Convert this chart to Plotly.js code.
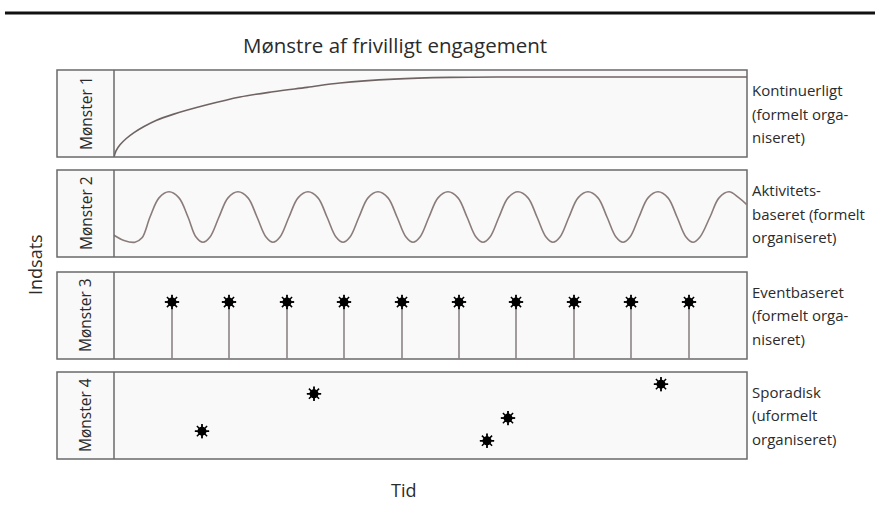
<!DOCTYPE html>
<html>
<head>
<meta charset="utf-8">
<script src="https://cdn.plot.ly/plotly-3.0.1.min.js"></script>
<style>html,body{margin:0;padding:0;background:#fff}#chart{width:880px;height:511px}</style>
</head>
<body>
<div id="chart"></div>
<script>
// ---- data (time offset units, engagement level 0..1) ----
const chartTitle = "Mønstre af frivilligt engagement";
const yTitle = "Indsats";
const xTitle = "Tid";
const patternNames = ["Mønster 1", "Mønster 2", "Mønster 3", "Mønster 4"];
const patternDescriptions = [
  ["Kontinuerligt", "(formelt orga-", "niseret)"],
  ["Aktivitets-", "baseret (formelt", "organiseret)"],
  ["Eventbaseret", "(formelt orga-", "niseret)"],
  ["Sporadisk", "(uformelt", "organiseret)"]
];

// Pattern 1: continuous curve
const contTime  = [0, 2, 6, 12, 20, 30, 42, 59, 93, 126, 159, 193, 226, 280, 336, 400, 633];
const contLevel = [0, 0.07, 0.14, 0.21, 0.28, 0.35, 0.42, 0.49, 0.60, 0.69, 0.75, 0.80, 0.85, 0.895, 0.915, 0.92, 0.92];

// Pattern 2: activity-based wave
const waveTime  = [0, 10, 21, 28, 36, 45, 55, 65, 74, 82, 89, 96,
                   105, 114, 124, 134, 143, 152, 159, 166,
                   175, 184, 194, 204, 213, 222, 229, 236,
                   245, 254, 264, 274, 283, 292, 299, 306,
                   315, 324, 334, 344, 353, 362, 369, 376,
                   385, 394, 404, 414, 423, 432, 439, 446,
                   455, 464, 474, 484, 493, 502, 509, 516,
                   525, 534, 544, 554, 563, 572, 579, 586,
                   596, 605, 615, 625, 633];
const waveLevel = [0.25, 0.19, 0.17, 0.22, 0.46, 0.68, 0.75, 0.68, 0.46, 0.23, 0.17, 0.23,
                   0.46, 0.68, 0.75, 0.68, 0.46, 0.23, 0.17, 0.23,
                   0.46, 0.68, 0.75, 0.68, 0.46, 0.23, 0.17, 0.23,
                   0.46, 0.68, 0.75, 0.68, 0.46, 0.23, 0.17, 0.23,
                   0.46, 0.68, 0.75, 0.68, 0.46, 0.23, 0.17, 0.23,
                   0.46, 0.68, 0.75, 0.68, 0.46, 0.23, 0.17, 0.23,
                   0.46, 0.68, 0.75, 0.68, 0.46, 0.23, 0.17, 0.23,
                   0.46, 0.68, 0.75, 0.68, 0.46, 0.23, 0.17, 0.23,
                   0.46, 0.68, 0.75, 0.68, 0.60];

// Pattern 3: events
const eventTime  = [58, 115, 173, 230, 288, 345, 402, 460, 517, 575];
const eventLevel = [0.655, 0.655, 0.655, 0.655, 0.655, 0.655, 0.655, 0.655, 0.655, 0.655];

// Pattern 4: sporadic
const sporTime  = [88, 200, 373, 394, 547];
const sporLevel = [0.32, 0.75, 0.21, 0.47, 0.86];

// ---- build ----
const curveColor = "#6f6463";
const borderColor = "#6a6a6a";
const font = "Open Sans, Noto Sans, sans-serif";
const textColor = "#2b2b2b";

const domains = [[0.7763, 1.0], [0.5193, 0.7429], [0.2571, 0.4807], [0.0, 0.2237]];
const labelFrac = (114 - 57) / 690;

function starMarkers(x, y, yaxis) {
  return [
    {x: x, y: y, yaxis: yaxis, xaxis: "x", type: "scatter", mode: "markers", hoverinfo: "skip",
     marker: {symbol: "asterisk-open", size: 12, color: "#000", line: {color: "#000", width: 1.5}}},
    {x: x, y: y, yaxis: yaxis, xaxis: "x", type: "scatter", mode: "markers", hoverinfo: "skip",
     marker: {symbol: "cross-thin-open", size: 10, color: "#000", line: {color: "#000", width: 1.3}}},
    {x: x, y: y, yaxis: yaxis, xaxis: "x", type: "scatter", mode: "markers", hoverinfo: "skip",
     marker: {symbol: "circle", size: 9, color: "#000", line: {width: 0}}}
  ];
}

const stemX = [], stemY = [];
eventTime.forEach((t, i) => { stemX.push(t, t, null); stemY.push(0, eventLevel[i], null); });

const traces = [
  {x: contTime, y: contLevel, xaxis: "x", yaxis: "y", type: "scatter", mode: "lines",
   line: {color: curveColor, width: 1.6, shape: "spline", smoothing: 1.0}, hoverinfo: "skip"},
  {x: waveTime, y: waveLevel, xaxis: "x", yaxis: "y2", type: "scatter", mode: "lines",
   line: {color: "#8a7c7a", width: 1.6, shape: "spline", smoothing: 1.0}, hoverinfo: "skip"},
  {x: stemX, y: stemY, xaxis: "x", yaxis: "y3", type: "scatter", mode: "lines",
   line: {color: "#8c8484", width: 1.6}, hoverinfo: "skip"},
  ...starMarkers(eventTime, eventLevel, "y3"),
  ...starMarkers(sporTime, sporLevel, "y4")
];

const shapes = [
  {type: "line", xref: "paper", yref: "paper", x0: -0.0754, x1: 1.1855, y0: 1.1465, y1: 1.1465,
   line: {color: "#111", width: 3}}
];
const annotations = [];
const yNames = ["y", "y2", "y3", "y4"];
domains.forEach((d, i) => {
  const yref = yNames[i] + " domain";
  shapes.push({type: "rect", xref: "paper", yref: yref, x0: 0, x1: 1, y0: 0, y1: 1,
    line: {color: borderColor, width: 1.5}, fillcolor: "#f9f9f9", layer: "below"});
  shapes.push({type: "line", xref: "paper", yref: yref, x0: labelFrac, x1: labelFrac, y0: 0, y1: 1,
    line: {color: borderColor, width: 1.5}});
  annotations.push({xref: "paper", yref: yref, x: labelFrac / 2, y: 0.5, text: patternNames[i],
    textangle: -90, showarrow: false, font: {family: font, size: 15.5, color: textColor},
    xanchor: "center", yanchor: "middle"});
  patternDescriptions[i].forEach((line, j) => {
    annotations.push({xref: "paper", yref: yref, x: 1, y: 0.5, text: line, showarrow: false,
      xanchor: "left", yanchor: "middle", xshift: 3, yshift: (1 - j) * 23.5,
      font: {family: font, size: 15, color: textColor}});
  });
});
annotations.push({xref: "paper", yref: "paper", x: (395 - 57) / 690, y: (459 - 45) / 389, text: chartTitle,
  showarrow: false, xanchor: "center", yanchor: "middle", font: {family: font, size: 20.5, color: textColor}});
annotations.push({xref: "paper", yref: "paper", x: (35 - 57) / 690, y: (459 - 265) / 389, text: yTitle,
  textangle: -90, showarrow: false, xanchor: "center", yanchor: "middle", font: {family: font, size: 18, color: textColor}});
annotations.push({xref: "paper", yref: "paper", x: (403 - 57) / 690, y: (459 - 490) / 389, text: xTitle,
  showarrow: false, xanchor: "center", yanchor: "middle", font: {family: font, size: 18, color: textColor}});

const hiddenAxis = {showgrid: false, zeroline: false, showticklabels: false, ticks: "", showline: false, fixedrange: true};
const layout = {
  width: 880, height: 511,
  margin: {l: 57, r: 133, t: 70, b: 52},
  paper_bgcolor: "#ffffff", plot_bgcolor: "rgba(0,0,0,0)",
  showlegend: false,
  xaxis: Object.assign({}, hiddenAxis, {domain: [labelFrac, 1], range: [0, 633]}),
  shapes: shapes,
  annotations: annotations
};
yNames.forEach((n, i) => {
  const key = i === 0 ? "yaxis" : "yaxis" + (i + 1);
  layout[key] = Object.assign({}, hiddenAxis, {domain: domains[i], range: [0, 1], anchor: "x"});
});

Plotly.newPlot("chart", traces, layout, {displayModeBar: false, staticPlot: true});
</script>
</body>
</html>
